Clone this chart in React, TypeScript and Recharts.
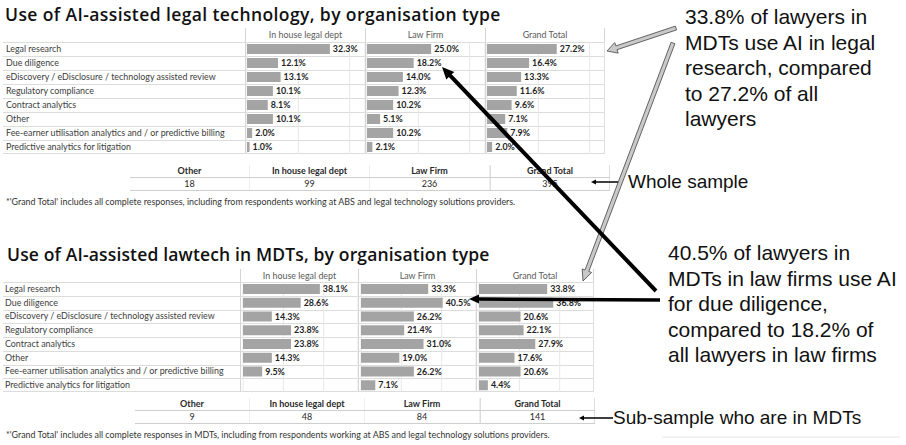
import { BarChart, Bar, XAxis, YAxis, CartesianGrid, LabelList } from "recharts";

// row categories shared by both tables
const categories = [
  "Legal research",
  "Due diligence",
  "eDiscovery / eDisclosure / technology assisted review",
  "Regulatory compliance",
  "Contract analytics",
  "Other",
  "Fee-earner utilisation analytics and / or predictive billing",
  "Predictive analytics for litigation",
];
const columns = ["In house legal dept", "Law Firm", "Grand Total"];

// table 1: all lawyers
const allInHouse = [32.3, 12.1, 13.1, 10.1, 8.1, 10.1, 2.0, 1.0];
const allLawFirm = [25.0, 18.2, 14.0, 12.3, 10.2, 5.1, 10.2, 2.1];
const allGrandTotal = [27.2, 16.4, 13.3, 11.6, 9.6, 7.1, 7.9, 2.0];

// table 2: lawyers in MDTs
const mdtInHouse = [38.1, 28.6, 14.3, 23.8, 23.8, 14.3, 9.5, 0.0];
const mdtLawFirm = [33.3, 40.5, 26.2, 21.4, 31.0, 19.0, 26.2, 7.1];
const mdtGrandTotal = [33.8, 36.8, 20.6, 22.1, 27.9, 17.6, 20.6, 4.4];

// sample sizes
const sampleHeaders = ["Other", "In house legal dept", "Law Firm", "Grand Total"];
const allSample = [18, 99, 236, 395];
const mdtSample = [9, 48, 84, 141];

const gridTicks = [20, 40];

const tableFont = "Lato, 'Open Sans', sans-serif";
const noteFont = "'Liberation Sans', Arial, sans-serif";
const cellSize = 8.9;

function ColumnChart({
  values,
  width,
  height,
  max,
  pad,
  labelW,
}: {
  values: number[];
  width: number;
  height: number;
  max: number;
  pad: number;
  labelW?: number;
}) {
  const data = categories.map((cat, i) => ({ cat, v: values[i] }));
  return (
    <BarChart
      layout="vertical"
      width={width}
      height={height}
      data={data}
      margin={{ top: 0, right: 0, bottom: 0, left: pad }}
      barSize={10}
    >
      <CartesianGrid horizontal={false} stroke="#e8e8e8" />
      <XAxis type="number" domain={[0, max]} ticks={gridTicks} hide />
      <YAxis
        type="category"
        dataKey="cat"
        hide={!labelW}
        width={labelW || 0}
        axisLine={false}
        tickLine={false}
        interval={0}
        tick={(p: any) => (
          <text
            x={5 - pad}
            y={p.y}
            dy={3}
            textAnchor="start"
            fontSize={cellSize}
            fontFamily={tableFont}
            fill="#3c3c3c"
          >
            {p.payload.value}
          </text>
        )}
      />
      <Bar dataKey="v" fill="#a4a4a4" isAnimationActive={false}>
        <LabelList
          dataKey="v"
          position="right"
          offset={3}
          formatter={(v: any) => Number(v).toFixed(1) + "%"}
          style={{ fontSize: cellSize, fontWeight: 700, fill: "#1e1e1e", fontFamily: tableFont }}
        />
      </Bar>
    </BarChart>
  );
}

function DataTable({
  top,
  left,
  labelW,
  colW,
  headerH,
  rowH,
  max,
  pad,
  series,
}: {
  top: number;
  left: number;
  labelW: number;
  colW: number;
  headerH: number;
  rowH: number;
  max: number;
  pad: number;
  series: number[][];
}) {
  const bodyH = rowH * categories.length;
  const totalW = labelW + colW * columns.length;
  return (
    <div style={{ position: "absolute", top, left, width: totalW, height: headerH + bodyH }}>
      {columns.map((c, i) => (
        <div
          key={c}
          style={{
            position: "absolute",
            left: labelW + i * colW,
            top: 0,
            width: colW,
            height: headerH + bodyH,
            borderLeft: "1px solid #d4d4d4",
            borderRight: i === columns.length - 1 ? "1px solid #d4d4d4" : undefined,
            boxSizing: "border-box",
          }}
        >
          <div
            style={{
              height: headerH,
              lineHeight: headerH + "px",
              textAlign: "center",
              fontSize: cellSize,
              fontFamily: tableFont,
              color: "#5a5a5a",
            }}
          >
            {c}
          </div>
        </div>
      ))}
      {categories.map((_, i) => (
        <div
          key={i}
          style={{
            position: "absolute",
            left: 0,
            top: headerH + i * rowH,
            width: totalW,
            height: rowH,
            borderTop: "1px solid #dcdcdc",
            borderBottom: i === categories.length - 1 ? "1px solid #dcdcdc" : undefined,
            boxSizing: "border-box",
          }}
        />
      ))}
      <div style={{ position: "absolute", left: 0, top: headerH }}>
        <ColumnChart values={series[0]} width={labelW + colW} height={bodyH} max={max} pad={pad} labelW={labelW} />
      </div>
      {series.slice(1).map((s, i) => (
        <div key={i} style={{ position: "absolute", left: labelW + (i + 1) * colW, top: headerH }}>
          <ColumnChart values={s} width={colW} height={bodyH} max={max} pad={pad} />
        </div>
      ))}
    </div>
  );
}

function SampleTable({ top, left, colW, values }: { top: number; left: number; colW: number; values: number[] }) {
  const cell = (text: string | number, bold: boolean, i: number) => (
    <div
      key={i}
      style={{
        width: colW,
        textAlign: "center",
        fontSize: 9,
        fontWeight: bold ? 700 : 400,
        fontFamily: tableFont,
        color: "#2a2a2a",
        borderRight: i < 3 ? "1px solid #eeeeee" : "1px solid #dddddd",
        borderLeft: i === 3 ? "1px solid #dddddd" : undefined,
        boxSizing: "border-box",
      }}
    >
      {text}
    </div>
  );
  return (
    <div style={{ position: "absolute", top, left, width: colW * 4 }}>
      <div style={{ display: "flex", height: 12, lineHeight: "12px" }}>
        {sampleHeaders.map((h, i) => cell(h, true, i))}
      </div>
      <div
        style={{
          display: "flex",
          height: 12,
          lineHeight: "12px",
          borderTop: "1px solid #cfcfcf",
          borderBottom: "1px solid #cfcfcf",
        }}
      >
        {values.map((v, i) => cell(v, false, i))}
      </div>
    </div>
  );
}

// points of a block arrow from (x1,y1) to tip (x2,y2)
function blockArrow(x1: number, y1: number, x2: number, y2: number, shaft: number, headW: number, headL: number) {
  const dx = x2 - x1;
  const dy = y2 - y1;
  const len = Math.hypot(dx, dy);
  const ux = dx / len;
  const uy = dy / len;
  const nx = -uy;
  const ny = ux;
  const bx = x2 - ux * headL;
  const by = y2 - uy * headL;
  const p = (x: number, y: number) => `${x.toFixed(1)},${y.toFixed(1)}`;
  return [
    p(x1 + nx * shaft / 2, y1 + ny * shaft / 2),
    p(bx + nx * shaft / 2, by + ny * shaft / 2),
    p(bx + nx * headW / 2, by + ny * headW / 2),
    p(x2, y2),
    p(bx - nx * headW / 2, by - ny * headW / 2),
    p(bx - nx * shaft / 2, by - ny * shaft / 2),
    p(x1 - nx * shaft / 2, y1 - ny * shaft / 2),
  ].join(" ");
}

function Annotations() {
  return (
    <svg
      width={906}
      height={445}
      style={{ position: "absolute", left: 0, top: 0, pointerEvents: "none" }}
    >
      <polygon points={blockArrow(676, 28, 607, 51, 4, 11, 10)} fill="#c9c9c9" stroke="#444" strokeWidth={0.8} />
      <polygon points={blockArrow(673, 43, 583, 281, 4, 10, 11)} fill="#c9c9c9" stroke="#444" strokeWidth={0.8} />
      <polygon points={blockArrow(656, 291, 442, 67, 4, 11, 12)} fill="#000" />
      <polygon points={blockArrow(660, 300, 469, 299, 3.5, 9, 10)} fill="#000" />
      <polygon points={blockArrow(618, 182, 591, 182, 1.5, 5, 5)} fill="#000" />
      <polygon points={blockArrow(613, 418, 579, 418, 1.5, 5, 5)} fill="#000" />
      <line x1={662} y1={437} x2={900} y2={437} stroke="#e6e6e6" strokeWidth={1} />
    </svg>
  );
}

export default function App() {
  const title = {
    position: "absolute" as const,
    left: 5,
    fontFamily: "'Open Sans', sans-serif",
    fontSize: 17.5,
    letterSpacing: 0.4,
    fontWeight: 600,
    color: "#111",
    whiteSpace: "nowrap" as const,
    lineHeight: "20px",
  };
  const footnote = {
    position: "absolute" as const,
    left: 6,
    fontFamily: tableFont,
    fontSize: 8.9,
    color: "#333",
    whiteSpace: "nowrap" as const,
    lineHeight: "10px",
  };
  const callout = {
    position: "absolute" as const,
    fontFamily: noteFont,
    fontSize: 21,
    lineHeight: "25.5px",
    color: "#111",
    whiteSpace: "nowrap" as const,
  };
  return (
    <div style={{ position: "absolute", left: 0, top: 0, width: 906, height: 445, background: "#fff", overflow: "hidden" }}>
      <div style={{ ...title, top: 4 }}>Use of AI-assisted legal technology, by organisation type</div>
      <DataTable
        top={28}
        left={3}
        labelW={242}
        colW={120}
        headerH={14}
        rowH={14}
        max={46}
        pad={2}
        series={[allInHouse, allLawFirm, allGrandTotal]}
      />
      <SampleTable top={165} left={130} colW={120} values={allSample} />
      <div style={{ ...footnote, top: 197 }}>
        *'Grand Total' includes all complete responses, including from respondents working at ABS and legal technology solutions providers.
      </div>

      <div style={{ ...title, top: 244, left: 7, letterSpacing: 0.15 }}>
        Use of AI-assisted lawtech in MDTs, by organisation type
      </div>
      <DataTable
        top={269}
        left={3}
        labelW={237}
        colW={118}
        headerH={13}
        rowH={13.75}
        max={57}
        pad={3}
        series={[mdtInHouse, mdtLawFirm, mdtGrandTotal]}
      />
      <SampleTable top={398} left={135} colW={115} values={mdtSample} />
      <div style={{ ...footnote, top: 430 }}>
        *'Grand Total' includes all complete responses in MDTs, including from respondents working at ABS and legal technology solutions providers.
      </div>

      <div style={{ ...callout, left: 685, top: 4 }}>
        33.8% of lawyers in
        <br />
        MDTs use AI in legal
        <br />
        research, compared
        <br />
        to 27.2% of all
        <br />
        lawyers
      </div>
      <div style={{ ...callout, left: 628, top: 170, fontSize: 19, lineHeight: "24px" }}>Whole sample</div>
      <div style={{ ...callout, left: 668, top: 240 }}>
        40.5% of lawyers in
        <br />
        MDTs in law firms use AI
        <br />
        for due diligence,
        <br />
        compared to 18.2% of
        <br />
        all lawyers in law firms
      </div>
      <div style={{ ...callout, left: 613, top: 406, fontSize: 19, lineHeight: "24px" }}>Sub-sample who are in MDTs</div>
      <Annotations />
    </div>
  );
}
